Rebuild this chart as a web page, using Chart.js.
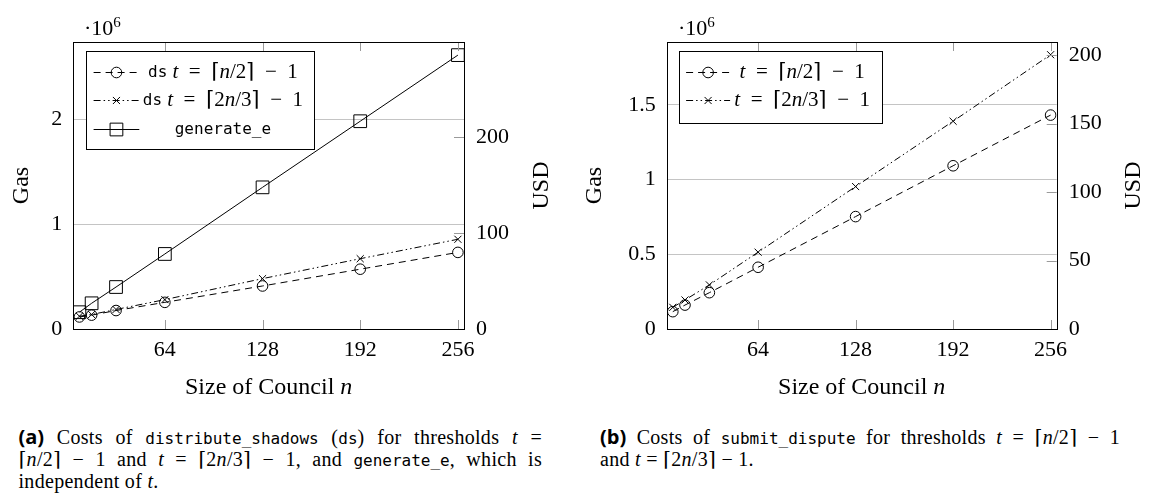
<!DOCTYPE html>
<html>
<head>
<meta charset="utf-8">
<script src="https://cdn.jsdelivr.net/npm/chart.js@4.4.1/dist/chart.umd.min.js"></script>
<style>
  body { margin: 0; width: 1154px; height: 497px; background: #fff; position: relative; overflow: hidden;
         font-family: "Liberation Serif", "DejaVu Serif", serif; color: #000; }
  .plot { position: absolute; top: 0; }
  .plot canvas { display: block; }
  .exp { position: absolute; top: 9px; font-size: 22px; line-height: 26px; }
  .exp sup { font-size: 15px; }
  .cap { position: absolute; top: 426.5px; font-size: 20px; line-height: 20.3px; letter-spacing: 0.3px; }
  .cap .j { text-align: justify; text-align-last: justify; }
  .tt { font-family: "DejaVu Sans Mono", monospace; font-size: 16px; letter-spacing: 0; }
  .sf { font-family: "Open Sans", sans-serif; font-weight: 700; letter-spacing: 0; }
</style>
</head>
<body>
<div class="plot" style="left:7px"><canvas id="chartA" width="549" height="400"></canvas></div>
<div class="plot" style="left:580px"><canvas id="chartB" width="574" height="400"></canvas></div>
<div class="exp" style="left:84px">·10<sup>6</sup></div>
<div class="exp" style="left:678px">·10<sup>6</sup></div>

<div class="cap" style="left:18.5px;width:523.5px">
  <div class="j"><span class="sf">(a)</span> Costs of <span class="tt">distribute_shadows</span> (<span class="tt">ds</span>) for thresholds <i>t</i> =</div>
  <div class="j">⌈<i>n</i>/2⌉ − 1 and <i>t</i> = ⌈2<i>n</i>/3⌉ − 1, and <span class="tt">generate_e</span>, which is</div>
  <div>independent of <i>t</i>.</div>
</div>
<div class="cap" style="left:600px;width:520px">
  <div class="j"><span class="sf">(b)</span> Costs of <span class="tt">submit_dispute</span> for thresholds <i>t</i> = ⌈<i>n</i>/2⌉ − 1</div>
  <div>and <i>t</i> = ⌈2<i>n</i>/3⌉ − 1.</div>
</div>

<script>
// council sizes n on the x axis
const councilSizes = [8, 16, 32, 64, 128, 192, 256];

// (a) gas in units of 10^6
const dsHalfGas = [0.115, 0.132, 0.176, 0.254, 0.41, 0.57, 0.73];
const dsTwoThirdsGas = [0.122, 0.138, 0.186, 0.28, 0.48, 0.67, 0.855];
const generateEGas = [0.16, 0.245, 0.40, 0.715, 1.35, 1.98, 2.61];

// (b) gas in units of 10^6
const disputeHalfGas = [0.116, 0.16, 0.243, 0.413, 0.752, 1.092, 1.431];
const disputeTwoThirdsGas = [0.145, 0.194, 0.295, 0.514, 0.953, 1.39, 1.835];

const xTicks = [64, 128, 192, 256];
const gasTicksA = [0, 1, 2];
const usdTicksA = [0, 100, 200];
const gasTicksB = [0, 0.5, 1, 1.5];
const usdTicksB = [0, 50, 100, 150, 200];
const usdPerMillionGas = 109.2;

const SERIF = '"Liberation Serif", "DejaVu Serif", serif';
const MONO = '"DejaVu Sans Mono", monospace';
const tickFont = { family: SERIF, size: 22 };
const titleFont = { family: SERIF, size: 24 };

// helpers for mixed-font text on the canvas
function richWidth(ctx, parts) {
  let w = 0;
  parts.forEach(p => { ctx.font = p[1]; w += ctx.measureText(p[0]).width; });
  return w;
}
function drawRich(ctx, parts, cx, y) {
  let x = cx - richWidth(ctx, parts) / 2;
  ctx.textAlign = 'left';
  ctx.textBaseline = 'middle';
  ctx.fillStyle = '#000';
  parts.forEach(p => { ctx.font = p[1]; ctx.fillText(p[0], x, y); x += ctx.measureText(p[0]).width; });
}

const pgfLook = {
  id: 'pgf',
  afterDraw(chart, args, opts) {
    const ctx = chart.ctx;
    const a = chart.chartArea;
    const xs = chart.scales.x, usd = chart.scales.usd;
    ctx.save();
    // inward tick marks
    ctx.strokeStyle = '#9a9a9a';
    ctx.lineWidth = 1;
    ctx.setLineDash([]);
    ctx.beginPath();
    xTicks.forEach(v => {
      const px = Math.round(xs.getPixelForValue(v)) + 0.5;
      ctx.moveTo(px, a.bottom); ctx.lineTo(px, a.bottom - 9);
      ctx.moveTo(px, a.top); ctx.lineTo(px, a.top + 9);
    });
    usd.ticks.forEach(t => {
      const py = Math.round(usd.getPixelForValue(t.value)) + 0.5;
      ctx.moveTo(a.right, py); ctx.lineTo(a.right - 10, py);
    });
    ctx.stroke();
    // frame
    ctx.strokeStyle = '#000';
    ctx.strokeRect(Math.round(a.left) + 0.5, Math.round(a.top) + 0.5,
                   Math.round(a.right - a.left), Math.round(a.bottom - a.top));

    // legend box
    const L = opts.legend;
    const bx = Math.round(a.left + L.x) + 0.5, by = Math.round(a.top + L.y) + 0.5;
    ctx.fillStyle = '#fff';
    ctx.fillRect(bx, by, L.w, L.h);
    ctx.strokeRect(bx, by, L.w, L.h);
    chart.data.datasets.forEach((ds, i) => {
      const y = Math.round(a.top + L.rows[i]) + 0.5;
      const x0 = a.left + L.line[0], x1 = a.left + L.line[1];
      ctx.strokeStyle = '#000';
      ctx.lineWidth = 1;
      ctx.setLineDash(ds.borderDash);
      ctx.beginPath(); ctx.moveTo(x0, y); ctx.lineTo(x1, y); ctx.stroke();
      ctx.setLineDash([]);
      ctx.fillStyle = 'rgba(0,0,0,0)';
      Chart.helpers.drawPoint(ctx, { pointStyle: ds.pointStyle, radius: ds.pointRadius, borderWidth: 1, rotation: 0 },
                              (x0 + x1) / 2, y);
      drawRich(ctx, L.texts[i], a.left + L.textCx, y);
    });

    // x title with italic n
    drawRich(ctx, [['Size of Council ', '24px ' + SERIF], ['n', 'italic 24px ' + SERIF]],
             (a.left + a.right) / 2, 388);
    // right title, reading upward like the left one
    ctx.translate(opts.usdX, (a.top + a.bottom) / 2);
    ctx.rotate(-Math.PI / 2);
    ctx.font = '24px ' + SERIF;
    ctx.textAlign = 'center';
    ctx.textBaseline = 'middle';
    ctx.fillStyle = '#000';
    ctx.fillText('USD', 0, 0);
    ctx.restore();
  }
};

const LEG = '21px ' + SERIF, LEGI = 'italic 21px ' + SERIF, LEGM = '16px ' + MONO;
const SP = '\u2002';
const halfText = [['t', LEGI], [SP + '=' + SP + '⌈', LEG], ['n', LEGI], ['/2⌉' + SP + '−' + SP + '1', LEG]];
const twoThirdsText = [['t', LEGI], [SP + '=' + SP + '⌈2', LEG], ['n', LEGI], ['/3⌉' + SP + '−' + SP + '1', LEG]];

const dashed = [7, 5];
const dashDotDot = [7, 3, 1.5, 3, 1.5, 3];

function series(label, values, dash, marker, radius) {
  return {
    label: label,
    data: councilSizes.map((n, i) => ({ x: n, y: values[i] })),
    yAxisID: 'gas',
    borderColor: '#000',
    backgroundColor: 'rgba(0,0,0,0)',
    borderWidth: 1,
    borderDash: dash,
    tension: 0,
    pointStyle: marker,
    pointRadius: radius,
    pointBorderColor: '#000',
    pointBackgroundColor: 'rgba(0,0,0,0)',
    pointBorderWidth: 1
  };
}

function makeChart(id, c) {
  return new Chart(document.getElementById(id), {
    type: 'line',
    data: { datasets: c.datasets },
    options: {
      responsive: false,
      animation: false,
      events: [],
      layout: { padding: { top: 42 } },
      plugins: { legend: { display: false }, tooltip: { enabled: false }, pgf: { legend: c.legend, usdX: c.usdX } },
      scales: {
        x: {
          type: 'linear', position: 'bottom', min: 4, max: 260,
          afterBuildTicks: s => { s.ticks = xTicks.map(v => ({ value: v })); },
          afterFit: s => { s.height = 71; },
          grid: { display: false }, border: { display: false },
          ticks: { font: tickFont, color: '#000', padding: 0, maxRotation: 0 }
        },
        gas: {
          position: 'left', min: 0, max: c.gasMax,
          afterBuildTicks: s => { s.ticks = c.gasTicks.map(v => ({ value: v })); },
          afterFit: s => { s.width = c.leftWidth; },
          grid: { color: '#c4c4c4', drawTicks: false, lineWidth: t => (t.tick && t.tick.value === 0 ? 0 : 1) },
          border: { display: false },
          ticks: { font: tickFont, color: '#000', padding: 11, callback: v => String(v) },
          title: { display: true, text: 'Gas', font: titleFont, color: '#000', padding: 0 }
        },
        usd: {
          position: 'right', min: 0, max: c.gasMax * usdPerMillionGas,
          afterBuildTicks: s => { s.ticks = c.usdTicks.map(v => ({ value: v })); },
          afterFit: s => { s.width = c.rightWidth; },
          grid: { display: false, drawTicks: false }, border: { display: false },
          ticks: { font: tickFont, color: '#000', padding: 12, callback: v => String(v) }
        }
      }
    },
    plugins: [pgfLook]
  });
}

makeChart('chartA', {
  datasets: [
    series('ds t = ⌈n/2⌉ − 1', dsHalfGas, dashed, 'circle', 5.3),
    series('ds t = ⌈2n/3⌉ − 1', dsTwoThirdsGas, dashDotDot, 'crossRot', 5),
    series('generate_e', generateEGas, [], 'rect', 9)
  ],
  gasMax: 2.735, gasTicks: gasTicksA, usdTicks: usdTicksA,
  leftWidth: 66.3, rightWidth: 92, usdX: 534.7,
  legend: {
    x: 12.4, y: 9, w: 228, h: 98, rows: [29.7, 58, 87], line: [20.3, 66], textCx: 149.6,
    texts: [
      [['ds', LEGM], [' ', LEG]].concat(halfText),
      [['ds', LEGM], [' ', LEG]].concat(twoThirdsText),
      [['generate_e', LEGM]]
    ]
  }
});

makeChart('chartB', {
  datasets: [
    series('t = ⌈n/2⌉ − 1', disputeHalfGas, dashed, 'circle', 5.3),
    series('t = ⌈2n/3⌉ − 1', disputeTwoThirdsGas, dashDotDot, 'crossRot', 5)
  ],
  gasMax: 1.92, gasTicks: gasTicksB, usdTicks: usdTicksB,
  leftWidth: 86.7, rightWidth: 97.3, usdX: 554,
  legend: {
    x: 12, y: 9, w: 203, h: 72, rows: [29.7, 58], line: [19.4, 63.4], textCx: 135.5,
    texts: [halfText, twoThirdsText]
  }
});
</script>
</body>
</html>
